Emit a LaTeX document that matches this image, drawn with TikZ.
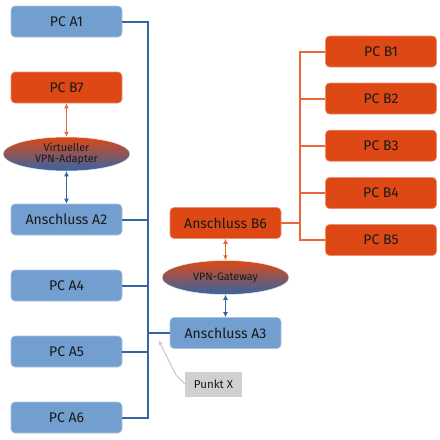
\documentclass[tikz,border=0pt]{standalone}
\usepackage{fontspec}
\setmainfont{Fira Sans}
\usetikzlibrary{shapes.geometric,arrows.meta}
\definecolor{ablue}{HTML}{729FCF}
\definecolor{aline}{HTML}{3465A4}
\definecolor{borange}{HTML}{DD4814}
\definecolor{bline}{HTML}{E8683A}
\definecolor{pgray}{HTML}{D0D0D0}
\tikzset{
  abox/.style={rectangle, rounded corners=4pt, fill=ablue, draw=ablue!60!white, line width=0.6pt,
    minimum width=111pt, minimum height=31pt, inner sep=0pt, font=\fontsize{14}{16}\selectfont, text=black!90},
  bbox/.style={abox, fill=borange, draw=borange!60!white},
  vpn/.style={ellipse, top color=borange, bottom color=aline, middle color=borange!50!aline, draw=white!85!gray, line width=0.5pt,
    minimum width=127pt, minimum height=34pt, inner sep=0pt, font=\fontsize{10.8}{11.5}\selectfont, align=center, text=black!90},
  abus/.style={draw=aline, line width=2pt},
  bbus/.style={draw=bline, line width=2pt},
  aarr/.style={draw=aline, line width=1.5pt, {Latex[length=5pt,width=5pt]}-{Latex[length=5pt,width=5pt]}},
  barr/.style={draw=bline, line width=1.5pt, {Latex[length=5pt,width=5pt]}-{Latex[length=5pt,width=5pt]}},
}
\begin{document}
\begin{tikzpicture}[x=1pt,y=-1pt]
\useasboundingbox (0,0) rectangle (440,440);
\node[abox] (a1) at (66.5,21.5) {PC A1};
\node[bbox] (b7) at (66.5,87.5) {PC B7};
\node[vpn] (va) at (66.5,154) {Virtueller\\VPN-Adapter};
\node[abox] (a2) at (66.5,219.5) {Anschluss A2};
\node[abox] (a4) at (66.5,285.5) {PC A4};
\node[abox] (a5) at (66.5,351.5) {PC A5};
\node[abox] (a6) at (66.5,417.5) {PC A6};
\node[bbox] (b6) at (225.5,223) {Anschluss B6};
\node[vpn] (gw) at (225.5,277.5) {VPN-Gateway};
\node[abox] (a3) at (225.5,333) {Anschluss A3};
\node[fill=pgray, minimum width=57pt, minimum height=25pt, inner sep=0pt, font=\fontsize{11.5}{12}\selectfont, text=black!90] (px) at (213.5,384) {Punkt X};
\node[bbox] (b1) at (381,51.5) {PC B1};
\node[bbox] (b2) at (381,98.5) {PC B2};
\node[bbox] (b3) at (381,145.7) {PC B3};
\node[bbox] (b4) at (381,193) {PC B4};
\node[bbox] (b5) at (381,240) {PC B5};
\coordinate (abx) at (148,0);
\coordinate (bbx) at (300,0);
% A bus
\draw[abus] (a1.east) -- (a1.east -| abx) -- (a6.east -| abx) -- (a6.east);
\draw[abus] (a2.east) -- (a2.east -| abx);
\draw[abus] (a4.east) -- (a4.east -| abx);
\draw[abus] (a5.east) -- (a5.east -| abx);
\draw[abus] (a3.west -| abx) -- (a3.west);
% B bus
\draw[bbus] (b1.west) -- (b1.west -| bbx) -- (b5.west -| bbx) -- (b5.west);
\draw[bbus] (b2.west) -- (b2.west -| bbx);
\draw[bbus] (b3.west) -- (b3.west -| bbx);
\draw[bbus] (b4.west) -- (b4.west -| bbx);
\draw[bbus] (b6.east) -- (b6.east -| bbx);
% arrows
\draw[barr] (b7.south) -- (va.north);
\draw[aarr] (va.south) -- (a2.north);
\draw[barr] (b6.south) -- (gw.north);
\draw[aarr] (gw.south) -- (a3.north);
\coordinate (pxt) at (158.5,340);
\draw[draw=black!22, line width=1pt, -{Latex[length=5pt,width=4pt]}] (px.west) -- (176,375) -- (pxt);
\end{tikzpicture}
\end{document}
